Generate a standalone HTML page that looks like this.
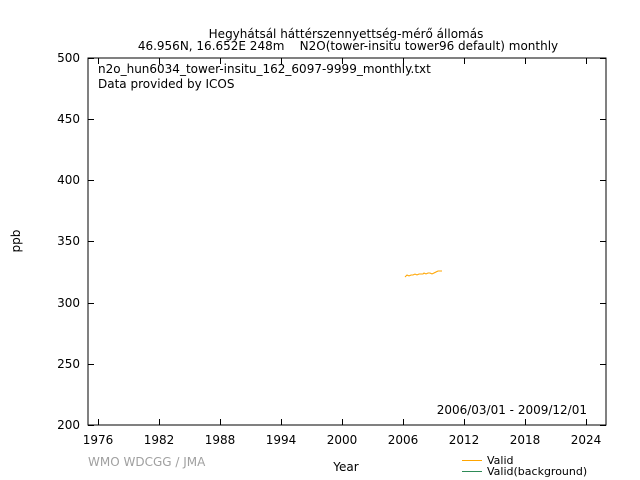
<!DOCTYPE html>
<html><head><style>body{margin:0;background:#fff}svg{display:block}text{font-family:"DejaVu Sans",sans-serif;font-size:12px;fill:#000;white-space:pre}</style></head>
<body>
<svg width="640" height="480" xmlns="http://www.w3.org/2000/svg">
<rect width="640" height="480" fill="#fff"/>
<text x="346" y="38" text-anchor="middle">Hegyhátsál háttérszennyettség-mérő állomás</text>
<text x="348" y="50" text-anchor="middle" xml:space="preserve">46.956N, 16.652E 248m    N2O(tower-insitu tower96 default) monthly</text>
<rect x="88" y="58" width="518" height="367" fill="none" stroke="#000" stroke-width="1"/>
<g stroke="#000" stroke-width="1">
<path d="M88 425.5h6M606 425.5h-6M88 364.5h6M606 364.5h-6M88 303.5h6M606 303.5h-6M88 241.5h6M606 241.5h-6M88 180.5h6M606 180.5h-6M88 119.5h6M606 119.5h-6M88 58.5h6M606 58.5h-6"/>
<path d="M98.5 425v-6M98.5 58v6M159.5 425v-6M159.5 58v6M220.5 425v-6M220.5 58v6M281.5 425v-6M281.5 58v6M342.5 425v-6M342.5 58v6M403.5 425v-6M403.5 58v6M464.5 425v-6M464.5 58v6M525.5 425v-6M525.5 58v6M586.5 425v-6M586.5 58v6"/>
</g>
<g text-anchor="end">
<text x="80" y="429">200</text><text x="80" y="368">250</text><text x="80" y="307">300</text><text x="80" y="245">350</text><text x="80" y="184">400</text><text x="80" y="123">450</text><text x="80" y="62">500</text>
</g>
<g text-anchor="middle">
<text x="98" y="444">1976</text><text x="159" y="444">1982</text><text x="220" y="444">1988</text><text x="281" y="444">1994</text><text x="342" y="444">2000</text><text x="403" y="444">2006</text><text x="464" y="444">2012</text><text x="525" y="444">2018</text><text x="586" y="444">2024</text>
</g>
<text x="20" y="241" text-anchor="middle" transform="rotate(-90 20 241)">ppb</text>
<text x="346" y="471" text-anchor="middle">Year</text>
<text x="98" y="73">n2o_hun6034_tower-insitu_162_6097-9999_monthly.txt</text>
<text x="98" y="88">Data provided by ICOS</text>
<text x="587" y="414" text-anchor="end">2006/03/01 - 2009/12/01</text>
<text x="88" y="466" style="fill:#a0a0a0">WMO WDCGG / JMA</text>
<polyline fill="none" stroke="#ffa500" stroke-width="1" points="405,277 407,275 409,276 411,275 413,275 415,274 417,275 419,274 421,274 423,274 424,273 426,274 428,273 430,273 432,274 434,273 436,272 438,271 440,271 442,271"/>
<line x1="462" y1="460.5" x2="482" y2="460.5" stroke="#ffa500"/>
<text x="487" y="464" style="font-size:11px">Valid</text>
<line x1="462" y1="471.5" x2="482" y2="471.5" stroke="#2e8b57"/>
<text x="487" y="475" style="font-size:11px">Valid(background)</text>
</svg>
</body></html>
